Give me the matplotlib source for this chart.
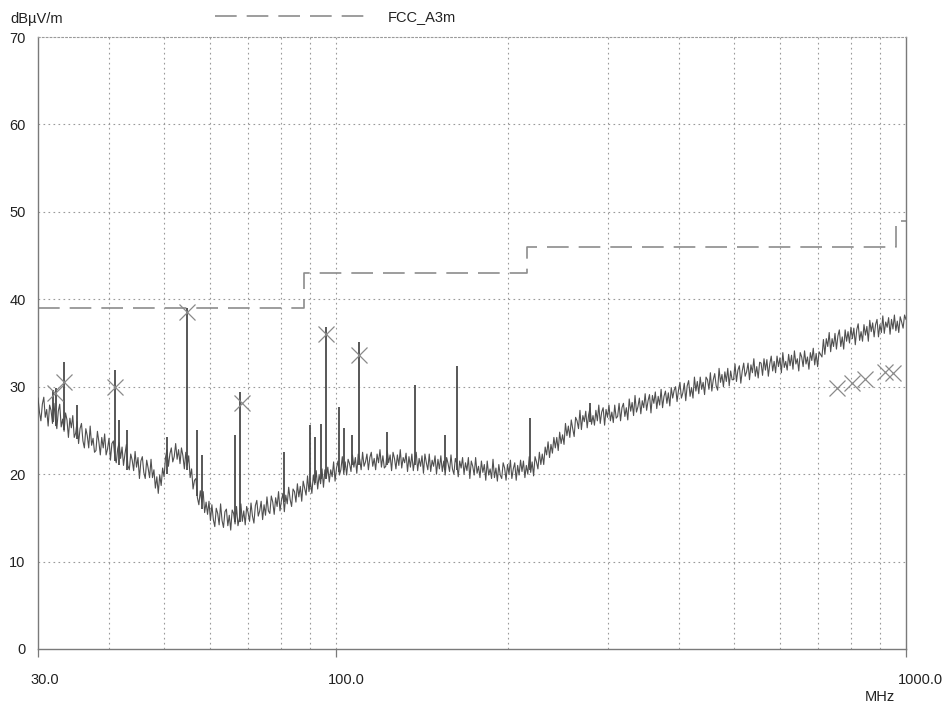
import numpy as np
import matplotlib
matplotlib.use("Agg")
import matplotlib.pyplot as plt
from matplotlib.ticker import FixedLocator, NullFormatter
from matplotlib.transforms import ScaledTranslation

plt.rcParams['font.family'] = ['Liberation Sans', 'DejaVu Sans']

# ---------------- data ----------------
# measured trace (dBuV/m), log-spaced from 30 MHz to 1000 MHz
trace_values = [
    28.7, 27.1, 26.1, 28.0, 28.8, 26.5, 27.4, 25.5, 27.9, 27.3, 25.8, 28.1, 26.2, 25.2, 27.2, 28.0, 25.4, 26.3, 24.9, 27.0,
    26.2, 24.2, 26.4, 25.3, 26.7, 24.2, 24.7, 26.0, 23.5, 25.2, 25.8, 23.8, 23.0, 25.2, 24.4, 23.0, 25.5, 23.3, 24.1, 22.5,
    22.7, 24.9, 23.7, 22.2, 24.2, 23.0, 24.6, 22.2, 22.9, 24.1, 21.6, 23.5, 23.8, 22.0, 21.3, 22.9, 23.6, 21.8, 23.1, 21.0,
    22.3, 23.4, 21.0, 20.5, 22.3, 21.6, 20.4, 22.6, 20.8, 21.9, 19.5, 21.5, 22.0, 20.2, 19.5, 21.6, 20.7, 19.6, 21.7, 19.6,
    20.5, 18.4, 19.7, 17.8, 19.9, 18.7, 20.7, 19.7, 21.9, 22.8, 20.9, 22.3, 23.0, 21.4, 22.0, 23.5, 21.7, 22.8, 21.2, 23.0,
    22.1, 20.6, 22.5, 21.0, 22.1, 19.6, 20.6, 18.3, 19.3, 19.5, 17.3, 16.5, 18.1, 16.8, 18.0, 15.6, 16.8, 15.4, 16.9, 14.7,
    16.5, 14.8, 14.0, 16.1, 15.5, 14.2, 16.6, 14.7, 13.9, 15.7, 16.0, 14.1, 15.3, 13.6, 15.9, 15.5, 14.3, 16.3, 14.1, 15.0,
    16.6, 14.6, 15.8, 14.2, 16.3, 15.6, 14.6, 16.7, 15.2, 14.4, 16.4, 17.0, 15.2, 15.8, 16.9, 14.8, 16.5, 15.3, 17.4, 15.8,
    15.5, 17.5, 16.8, 15.4, 17.3, 16.3, 18.0, 15.8, 17.0, 17.8, 15.7, 17.6, 16.6, 18.5, 17.1, 16.3, 18.3, 18.0, 16.8, 18.9,
    17.4, 18.6, 16.9, 19.2, 18.4, 17.6, 19.8, 18.0, 19.1, 17.8, 19.9, 18.8, 20.4, 18.3, 19.9, 18.9, 20.6, 18.5, 20.5, 19.6,
    20.8, 19.1, 20.5, 19.7, 21.4, 19.2, 20.7, 21.5, 19.9, 20.5, 22.0, 20.0, 21.4, 19.9, 21.7, 21.2, 20.3, 22.2, 20.8, 21.9,
    20.1, 22.3, 21.7, 20.5, 22.5, 20.9, 21.4, 22.3, 20.5, 21.9, 22.5, 20.9, 21.8, 20.5, 22.3, 21.3, 22.8, 20.8, 22.1, 20.7,
    20.9, 22.7, 21.3, 22.2, 20.4, 22.5, 21.8, 20.6, 22.2, 21.0, 22.8, 20.7, 21.9, 21.3, 22.4, 20.3, 22.0, 20.8, 22.3, 20.4,
    21.7, 22.5, 20.4, 21.8, 20.9, 22.1, 20.1, 22.3, 21.3, 20.5, 22.3, 20.3, 21.6, 20.9, 22.1, 20.0, 21.7, 20.6, 22.1, 20.3,
    21.5, 19.9, 21.9, 21.2, 20.3, 22.2, 20.6, 20.0, 21.8, 21.2, 19.7, 21.5, 20.7, 21.9, 20.0, 21.3, 20.4, 21.9, 19.5, 21.5,
    20.9, 19.9, 21.9, 20.1, 20.9, 19.6, 21.5, 20.2, 21.1, 19.3, 21.5, 19.9, 20.6, 19.5, 21.7, 19.6, 20.7, 19.2, 21.1, 19.9,
    19.5, 21.3, 20.7, 19.3, 21.1, 20.0, 21.6, 19.5, 20.6, 21.3, 19.3, 21.0, 19.9, 21.6, 20.3, 21.5, 19.6, 21.0, 20.0, 22.0,
    20.2, 21.4, 19.8, 22.0, 21.4, 20.6, 22.5, 21.1, 22.3, 21.1, 23.1, 22.2, 23.7, 21.9, 23.4, 22.4, 24.2, 23.0, 24.2, 22.7,
    24.8, 23.5, 24.5, 23.4, 25.8, 24.4, 25.5, 24.2, 26.2, 25.2, 24.3, 26.5, 26.1, 25.2, 27.3, 25.1, 26.7, 26.0, 27.2, 25.3,
    26.8, 27.6, 25.7, 26.7, 25.6, 27.3, 26.1, 27.9, 25.8, 27.1, 27.6, 25.6, 27.4, 26.5, 27.9, 26.1, 27.1, 25.9, 27.9, 26.4,
    26.6, 28.1, 26.1, 27.6, 28.1, 26.6, 27.6, 26.2, 28.6, 27.2, 28.2, 26.7, 29.0, 27.1, 27.7, 28.7, 26.9, 28.4, 27.6, 29.2,
    27.3, 28.4, 29.1, 27.0, 29.0, 28.1, 29.4, 27.5, 28.9, 27.9, 29.7, 27.6, 28.9, 29.5, 28.1, 29.3, 27.8, 29.9, 28.7, 29.6,
    30.0, 28.3, 29.6, 30.5, 28.7, 29.3, 30.4, 28.4, 30.1, 30.7, 28.9, 29.9, 28.7, 31.1, 29.5, 30.6, 29.2, 31.1, 29.7, 30.5,
    29.1, 31.1, 30.8, 29.7, 31.6, 29.5, 30.8, 31.5, 30.1, 29.6, 32.1, 30.5, 31.4, 30.0, 31.7, 30.6, 32.1, 30.1, 31.8, 30.8,
    30.8, 32.6, 30.6, 31.9, 32.4, 30.4, 31.8, 32.7, 31.2, 31.7, 32.7, 30.8, 32.5, 31.6, 33.2, 31.2, 32.3, 31.0, 32.8, 32.7,
    31.3, 33.2, 31.9, 33.1, 31.2, 32.6, 33.5, 31.8, 32.9, 31.6, 33.5, 32.3, 33.3, 31.6, 33.9, 32.2, 32.9, 31.9, 33.7, 32.4,
    33.6, 32.0, 34.1, 32.6, 33.2, 31.8, 33.9, 33.4, 32.3, 34.1, 32.6, 33.4, 32.0, 33.9, 33.0, 34.4, 32.5, 33.8, 32.3, 34.0,
    33.7, 33.4, 35.4, 33.7, 35.5, 34.6, 36.2, 34.0, 35.5, 34.6, 36.1, 34.3, 35.8, 36.5, 34.6, 35.7, 34.3, 36.5, 35.2, 36.3,
    35.0, 36.8, 35.5, 36.7, 34.8, 36.5, 37.2, 35.3, 36.3, 35.2, 37.1, 35.9, 36.9, 35.2, 37.6, 36.3, 37.3, 35.7, 37.1, 37.7,
    35.7, 37.1, 36.2, 38.1, 36.1, 37.4, 36.8, 37.9, 36.0, 37.7, 36.6, 38.2, 36.4, 37.5, 36.2, 38.0, 37.4, 36.7, 38.2, 37.7,
]
trace_freqs = np.geomspace(30.0, 1000.0, len(trace_values))

# narrow-band spikes: frequency (MHz), peak and floor (dBuV/m)
spike_freqs = [31.9, 32.2, 33.3, 35.1, 40.9, 41.6, 43.0, 50.5, 54.8, 57.0, 58.3, 66.5, 67.8, 81.1,
               90.0, 91.8, 94.2, 96.0, 101.1, 103.2, 106.5, 109.8, 123.0, 137.8, 155.5, 163.3, 219.0, 279.2]
spike_peaks = [29.6, 29.8, 32.8, 27.9, 31.9, 26.2, 25.0, 24.3, 39.0, 25.1, 22.2, 24.5, 29.4, 22.5,
               25.6, 24.3, 25.7, 36.8, 27.7, 25.3, 24.5, 35.1, 24.8, 30.2, 24.5, 32.4, 26.4, 28.1]
spike_floors = [26.0, 25.5, 25.0, 24.0, 21.5, 21.0, 20.5, 20.0, 20.5, 17.5, 16.0, 14.5, 14.5, 16.8,
                18.5, 19.0, 19.5, 19.5, 20.3, 20.5, 21.0, 21.0, 21.0, 21.0, 20.5, 20.5, 20.5, 26.0]

# limit line FCC_A3m
limit_freqs = [30, 88, 88, 216, 216, 960, 960, 1000]
limit_values = [39, 39, 43, 43, 46, 46, 49, 49]

# marked peaks
marker_freqs = [32.1, 33.3, 40.9, 54.8, 68.4, 96.0, 109.8, 757, 804, 848, 919, 948]
marker_values = [29.3, 30.5, 30.0, 38.6, 28.1, 36.0, 33.6, 29.9, 30.4, 30.9, 31.7, 31.6]

x_ticks = [30, 100, 1000]
x_tick_labels = ["30.0", "100.0", "1000.0"]
x_grid = [40, 50, 60, 70, 80, 90, 100, 200, 300, 400, 500, 600, 700, 800, 900]
y_ticks = [0, 10, 20, 30, 40, 50, 60, 70]

# ---------------- figure ----------------
W, H = 951, 706
fig = plt.figure(figsize=(W / 100, H / 100), dpi=100)
ax = fig.add_axes([38 / W, 1 - 649 / H, (906 - 38) / W, (649 - 37) / H])

grid_c = '#9a9a9a'
ax.set_xscale('log')
ax.set_xlim(30, 1000)
ax.set_ylim(0, 70)

for g in x_grid:
    ax.axvline(g, color=grid_c, lw=0.8, linestyle=(0, (1.5, 3)), zorder=1)
for g in y_ticks[1:-1]:
    ax.axhline(g, color=grid_c, lw=0.8, linestyle=(0, (1.5, 3)), zorder=1)

# limit line
ax.plot(limit_freqs, limit_values, color='#8c8c8c', lw=1.2, linestyle=(0, (13, 6)), zorder=2)

# trace
ax.plot(trace_freqs, trace_values, color='#505050', lw=0.8, zorder=3)
ax.vlines(spike_freqs, spike_floors, spike_peaks, color='#4a4a4a', lw=1.3, zorder=3)

# markers
ax.plot(marker_freqs, marker_values, linestyle='none', marker='x', markersize=12,
        markeredgewidth=0.9, color='#8a8a8a', zorder=4)

# axes styling
for s in ['left', 'bottom', 'right']:
    ax.spines[s].set_color('#7a7a7a')
    ax.spines[s].set_linewidth(1.0)
ax.spines['top'].set_color(grid_c)
ax.spines['top'].set_linewidth(0.8)
ax.spines['top'].set_linestyle((0, (1.5, 2)))

ax.xaxis.set_major_locator(FixedLocator(x_ticks))
ax.xaxis.set_minor_locator(FixedLocator([]))
ax.xaxis.set_minor_formatter(NullFormatter())
ax.set_xticklabels(x_tick_labels)
ax.tick_params(axis='x', which='major', length=6, width=0.9, color='#7a7a7a',
               pad=11, labelsize=10.5, labelcolor='#222222')
offset = ScaledTranslation(-8 / 100, 0, fig.dpi_scale_trans)
for lbl in ax.get_xticklabels():
    lbl.set_horizontalalignment('left')
    lbl.set_transform(lbl.get_transform() + offset)

ax.set_yticks(y_ticks)
ax.set_yticklabels([str(v) for v in y_ticks])
ax.tick_params(axis='y', length=0, pad=9, labelsize=10.5, labelcolor='#222222')

# texts
fig.text(10 / W, 1 - 19 / H, "dBµV/m", fontsize=10.5, color='#222222', ha='left', va='center')
fig.text(895 / W, 1 - 697 / H, "MHz", fontsize=10.5, color='#222222', ha='right', va='center')
fig.add_artist(plt.Line2D([215 / W, 368 / W], [1 - 16 / H, 1 - 16 / H], color='#8c8c8c',
                          lw=1.2, linestyle=(0, (13, 6)), transform=fig.transFigure))
fig.text(388 / W, 1 - 17 / H, "FCC_A3m", fontsize=10.5, color='#222222', ha='left', va='center')

fig.savefig("out.png", dpi=100)
